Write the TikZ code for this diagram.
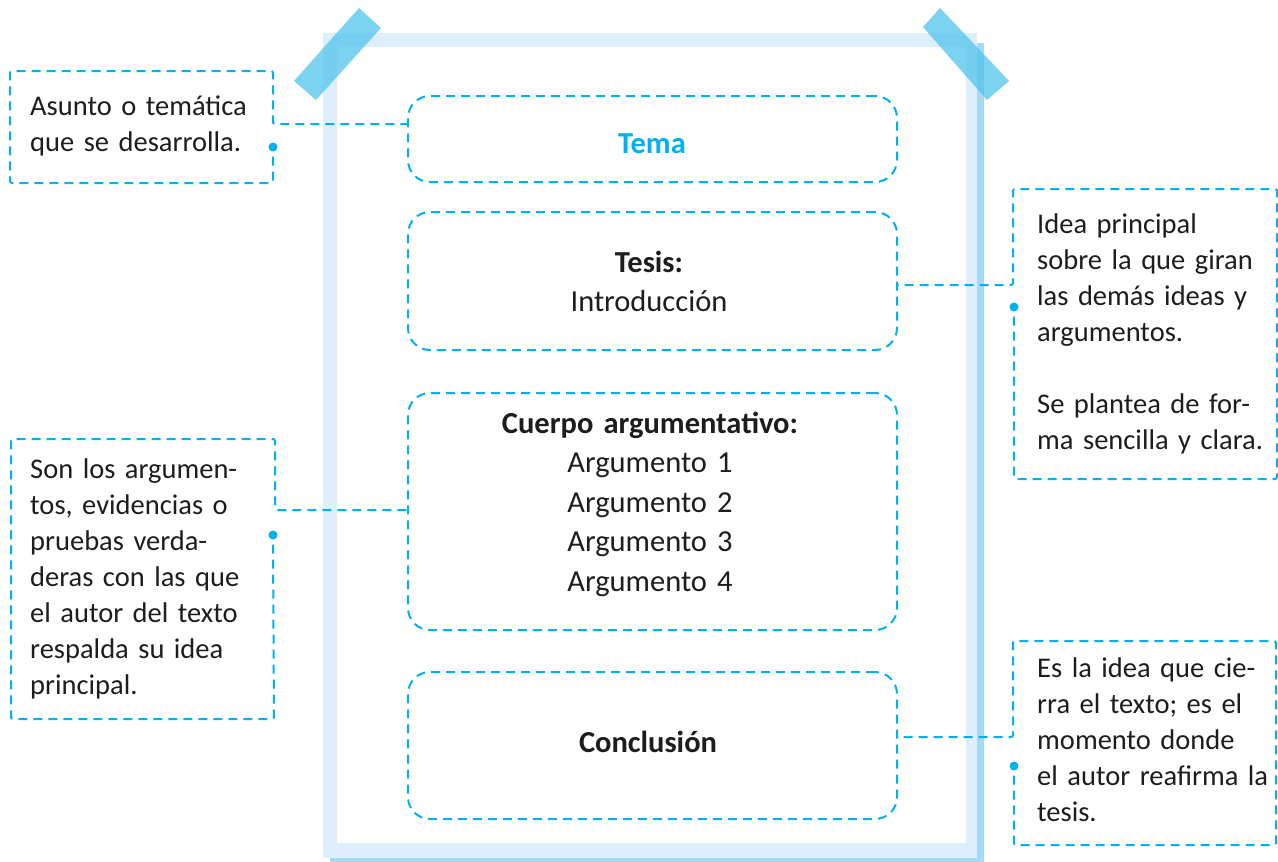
\documentclass[tikz,border=0pt]{standalone}
\usepackage{fontspec}
\setmainfont{Carlito}
\definecolor{cy}{RGB}{0,176,240}
\definecolor{lightfr}{RGB}{221,239,251}
\definecolor{darkfr}{RGB}{166,217,245}
\definecolor{tapec}{RGB}{80,195,237}
\definecolor{ink}{RGB}{29,29,27}
\begin{document}
\begin{tikzpicture}[x=1pt,y=-1pt,
 dsh/.style={draw=cy, line width=2pt, dash pattern=on 9pt off 6pt},
 box/.style={dsh, rounded corners=22pt, minimum width=489pt, inner sep=0pt},
 ctext/.style={anchor=base west, inner sep=0pt, text width=250pt, align=left, font=\fontsize{28.5}{36}\selectfont, text=ink},
 btext/.style={anchor=base, inner sep=0pt, text width=420pt, align=center, font=\fontsize{30.5}{39.5}\selectfont, text=ink},
 dotc/.style={circle, fill=cy, inner sep=0pt, minimum size=9pt},
 tapest/.style={fill=tapec, fill opacity=0.75}]
\useasboundingbox (0,0) rectangle (1278,862);
\fill[white] (0,0) rectangle (1278,862);
% paper
\fill[darkfr] (330,43) rectangle (984,868);
\fill[lightfr] (323,33) rectangle (977,858);
\fill[white] (337,47) rectangle (966,843);
% tapes
\fill[tapest] (359,8) -- (381,28) -- (316,100) -- (294,81) -- cycle;
\fill[tapest] (940,8) -- (923,27) -- (987,100) -- (1009,81) -- cycle;
% boxes
\node[box, minimum height=86pt] (tema) at (652.5,139) {};
\node[box, minimum height=138pt] (tesis) at (652.5,281) {};
\node[box, minimum height=237pt] (cuerpo) at (652.5,511.5) {};
\node[box, minimum height=147pt] (concl) at (652.5,745.5) {};
% box texts
\node[btext, text=cy, font=\fontsize{30.5}{39.5}\selectfont\bfseries] (tTema) at (652,153) {Tema};
\node[btext] (tTesis) at (649,272) {\textbf{Tesis:}\\Introducción};
\node[btext] (tCuerpo) at (650,433) {\textbf{Cuerpo argumentativo:}\\Argumento 1\\Argumento 2\\Argumento 3\\Argumento 4};
\node[btext, font=\fontsize{30.5}{39.5}\selectfont\bfseries] (tConcl) at (648,752) {Conclusión};
% callout texts
\node[ctext] (c1) at (30,115) {Asunto o temática\\que se desarrolla.};
\node[ctext] (c2) at (30,478) {Son los argumen-\\tos, evidencias o\\pruebas verda-\\deras con las que\\el autor del texto\\respalda su idea\\principal.};
\node[ctext] (c3) at (1037,233) {Idea principal\\sobre la que giran\\las demás ideas y\\argumentos.\\[36pt]Se plantea de for-\\ma sencilla y clara.};
\node[ctext] (c4) at (1037,677) {Es la idea que cie-\\rra el texto; es el\\momento donde\\el autor reafirma la\\tesis.};
% callout frames and connectors
\coordinate (k1) at (273,124);
\coordinate (k2) at (273,510);
\coordinate (k3) at (1013,285);
\coordinate (k4) at (1013,737);
\node[dotc] (d1) at (273,147) {};
\node[dotc] (d2) at (273,535) {};
\node[dotc] (d3) at (1014,307) {};
\node[dotc] (d4) at (1014,766) {};
\draw[dsh, rounded corners=2pt] (d1.south) ++(0,5) -- (273,183) -- (10,183) -- (10,71) -- (273,71) -- (k1) -- (tema.west |- k1);
\draw[dsh, rounded corners=2pt] (d2.south) ++(0,5) -- (274,719) -- (11,719) -- (11,439) -- (275,439) -- (275,510) -- (cuerpo.west |- k2);
\draw[dsh, rounded corners=2pt] (d3.south) ++(0,5) -- (1014,479) -- (1277,479) -- (1277,189) -- (1013,189) -- (k3) -- (tesis.east |- k3);
\draw[dsh, rounded corners=2pt] (d4.south) ++(0,5) -- (1014,845) -- (1276,845) -- (1276,641) -- (1013,641) -- (k4) -- (concl.east |- k4);
\end{tikzpicture}
\end{document}
